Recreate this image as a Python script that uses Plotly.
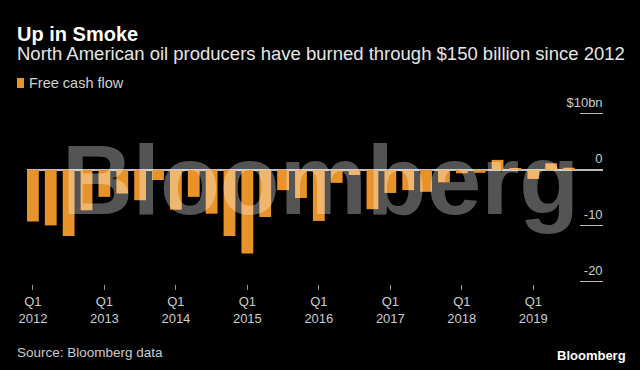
import plotly.graph_objects as go

# ---- data ----
quarters = [f"Q{q} {y}" for y in range(2012, 2020) for q in range(1, 5)][:31]
free_cash_flow = [-9.2, -9.9, -11.8, -7.2, -4.8, -4.2, -5.4, -1.8, -7.1, -4.8, -7.8,
                  -11.8, -14.9, -8.4, -3.6, -5.0, -9.1, -2.3, -0.9, -7.0, -4.1, -3.6,
                  -3.9, -2.2, -0.6, -0.5, 1.8, 0.2, -1.6, 1.2, 0.4]
x_tick_cats = [f"Q1 {y}" for y in range(2012, 2020)]
x_tick_text = [f"Q1<br>{y}" for y in range(2012, 2020)]
y_tick_vals = [-20, -10, 0, 10]
y_tick_text = ["-20", "-10", "0", "$10bn"]
series_name = "Free cash flow"

W, H = 640, 370
L, R, T, B = 27, 37, 103, 86
PW, PH = W - L - R, H - T - B
FONT = "Liberation Sans, Arial, sans-serif"
ORANGE = "#e8922a"


def px(xp):
    return (xp - L) / PW


def py(yp):
    return (H - B - yp) / PH


fig = go.Figure()
fig.add_trace(go.Bar(x=quarters, y=free_cash_flow, name=series_name,
                     marker=dict(color=ORANGE, line=dict(width=0))))

fig.update_layout(
    width=W, height=H,
    margin=dict(l=L, r=R, t=T, b=B, pad=0),
    paper_bgcolor="#000000", plot_bgcolor="#000000",
    bargap=0.34,
    showlegend=False,
    font=dict(family=FONT, color="#cccccc"),
    xaxis=dict(type="category", range=[-0.33, 31.9], tickmode="array",
               tickvals=x_tick_cats, ticktext=x_tick_text, ticks="outside",
               ticklen=5, tickcolor="#999999", showgrid=False, showline=False,
               zeroline=False, tickfont=dict(family=FONT, size=13, color="#cccccc")),
    yaxis=dict(range=[-20.36, 11.96], side="right", tickmode="array",
               tickvals=y_tick_vals, ticktext=y_tick_text, ticks="inside",
               ticklen=23, tickcolor="#bbbbbb", tickwidth=1,
               ticklabelposition="inside", ticklabelshift=-12, ticklabelstandoff=-23,
               ticklabeloverflow="allow", showgrid=False, showline=False,
               zeroline=True, zerolinecolor="#bbbbbb", zerolinewidth=1.5,
               layer="above traces",
               tickfont=dict(family=FONT, size=13, color="#cccccc")),
)

# legend key drawn as a small swatch + label
fig.add_shape(type="rect", xref="paper", yref="paper",
              x0=px(17), x1=px(24), y0=py(88), y1=py(78),
              fillcolor=ORANGE, line=dict(width=0))

annotations = [
    dict(text="Bloomberg", x=px(320), y=py(180), xanchor="center", yanchor="middle",
         font=dict(family=FONT, size=98, color="rgba(255,255,255,0.33)", weight="bold"),
         showarrow=False),
    dict(text="<b>Up in Smoke</b>", x=px(15), y=py(34), xanchor="left", yanchor="middle",
         font=dict(family=FONT, size=20, color="#ffffff"), showarrow=False),
    dict(text="North American oil producers have burned through $150 billion since 2012",
         x=px(15), y=py(53), xanchor="left", yanchor="middle",
         font=dict(family=FONT, size=18.5, color="#e6e6e6"), showarrow=False),
    dict(text=series_name, x=px(27), y=py(83), xanchor="left", yanchor="middle",
         font=dict(family=FONT, size=14.5, color="#d0d0d0"), showarrow=False),
    dict(text="Source: Bloomberg data", x=px(15), y=py(352), xanchor="left", yanchor="middle",
         font=dict(family=FONT, size=13.5, color="#cccccc"), showarrow=False),
    dict(text="<b>Bloomberg</b>", x=px(628), y=py(355), xanchor="right", yanchor="middle",
         font=dict(family=FONT, size=13, color="#ffffff"), showarrow=False),
]
for a in annotations:
    a.update(xref="paper", yref="paper")
fig.update_layout(annotations=annotations)

fig.write_html("out.html")
